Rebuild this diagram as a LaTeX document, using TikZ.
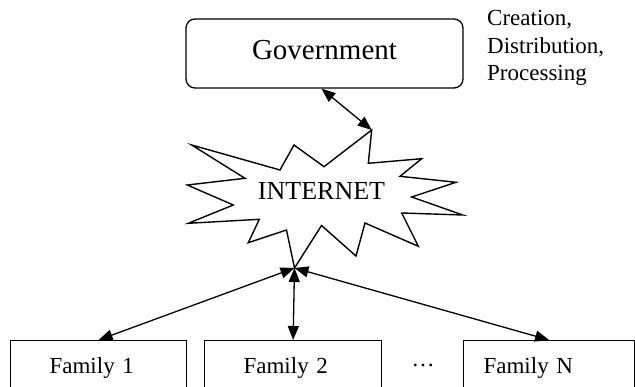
\documentclass[tikz,border=0pt]{standalone}
\usepackage{fontspec}
\setmainfont{Liberation Serif}
\usetikzlibrary{positioning,arrows.meta}
\tikzset{
  famblk/.style={draw,line width=1.2pt,anchor=north west,align=left,font=\fontsize{23}{27}\selectfont,text height=16pt,text depth=5pt,inner ysep=17pt},
  govblk/.style={draw,line width=1.3pt,rounded corners=9pt,minimum width=277pt,minimum height=69pt,font=\fontsize{29}{34}\selectfont,text depth=7pt},
  burst/.style={draw,line width=1.4pt},
  arr/.style={{Triangle[length=14pt,width=11pt]}-{Triangle[length=14pt,width=11pt]},line width=1.3pt},
  lab/.style={font=\fontsize{23}{27.5}\selectfont,align=left,inner sep=0pt},
}
\begin{document}
\begin{tikzpicture}[x=1pt,y=-1pt]
\useasboundingbox (0,0) rectangle (635,387);
\clip (0,0) rectangle (635,387);
\node[govblk] (gov) at (324.5,53.5) {Government};
\node[lab,anchor=base west] (task) at (487,81) {Creation,\\Distribution,\\Processing};
\coordinate (tip) at (371.7,130);
\coordinate (hub) at (294.5,268);
\draw[burst] (tip) -- (368.3,163.3) -- (421.7,158.7) -- (400,176.3) -- (456,182.3) -- (411.7,197) -- (462.7,215) -- (401.7,213) -- (418.3,246.3) -- (365,223) -- (356,256) -- (321.5,225.5) -- (hub) -- (286.5,230) -- (248.3,242.7) -- (259.3,219.3) -- (188.3,223.3) -- (233.3,205) -- (187.3,185) -- (245,178.3) -- (191.7,145) -- (280,170) -- (294,145) -- (324,166.7) -- cycle;
\node[font=\fontsize{26}{31}\selectfont] (net) at (321.5,191) {INTERNET};
\node[famblk,inner xsep=39pt,text width=98pt] (f1) at (10,340) {Family 1};
\node[famblk,inner xsep=39pt,text width=99pt] (f2) at (204,340) {Family 2};
\node[famblk,inner xsep=20pt,text width=131pt] (fn) at (463,340) {Family N};
\node[font=\fontsize{23}{27}\selectfont,anchor=base] (dots) at (423,367) {…};
\draw[arr] ([xshift=-3pt]gov.south) -- (tip);
\draw[arr] (hub) -- (f1.north);
\draw[arr] (hub) -- (f2.north);
\draw[arr] (hub) -- (fn.north);
\end{tikzpicture}
\end{document}
